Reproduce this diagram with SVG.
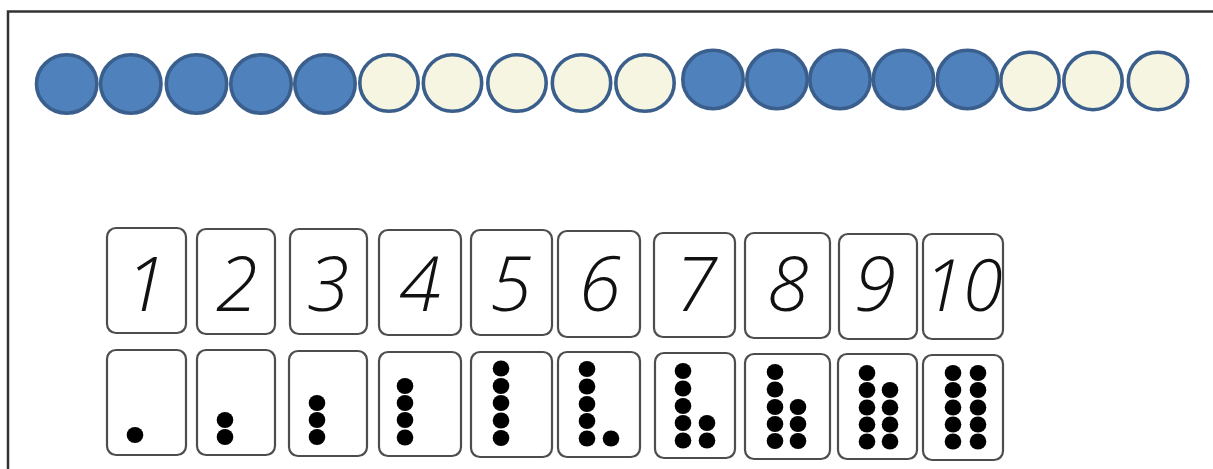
<svg xmlns="http://www.w3.org/2000/svg" width="1213" height="469" viewBox="0 0 1213 469">
<style>
.frame{fill:none;stroke:#333;stroke-width:2.5}
.bd{fill:#4f81bd;stroke:#3b5f8c;stroke-width:3.6}
.bl{fill:#f5f5e1;stroke:#3b5f8c;stroke-width:3.6}
.card{fill:#fff;stroke:#4d4d4d;stroke-width:2.2}
.num{font-family:"Open Sans","Liberation Sans",sans-serif;font-weight:300;font-style:italic;font-size:76px;fill:#111;text-anchor:middle}
.dot{fill:#000}
</style>
<rect width="1213" height="469" fill="#fff"/>
<path class="frame" d="M8,470 V11.5 H1214"/>
<g id="beads">
<ellipse class="bd" cx="66.7" cy="84" rx="30.2" ry="29.2"/>
<ellipse class="bd" cx="130.8" cy="84" rx="30.2" ry="29.2"/>
<ellipse class="bd" cx="196.5" cy="84" rx="30.2" ry="29.2"/>
<ellipse class="bd" cx="261" cy="84" rx="30.2" ry="29.2"/>
<ellipse class="bd" cx="325" cy="84" rx="30.2" ry="29.2"/>
<ellipse class="bl" cx="389" cy="83" rx="29.2" ry="28.2"/>
<ellipse class="bl" cx="452.5" cy="83" rx="29.2" ry="28.2"/>
<ellipse class="bl" cx="517" cy="83" rx="29.2" ry="28.2"/>
<ellipse class="bl" cx="581.5" cy="83" rx="29.2" ry="28.2"/>
<ellipse class="bl" cx="645" cy="83" rx="29.2" ry="28.2"/>
<ellipse class="bd" cx="713" cy="79.5" rx="30.2" ry="29.2"/>
<ellipse class="bd" cx="777" cy="79.5" rx="30.2" ry="29.2"/>
<ellipse class="bd" cx="840" cy="79.5" rx="30.2" ry="29.2"/>
<ellipse class="bd" cx="903.5" cy="79.5" rx="30.2" ry="29.2"/>
<ellipse class="bd" cx="967.5" cy="79.5" rx="30.2" ry="29.2"/>
<ellipse class="bl" cx="1030" cy="81" rx="29.2" ry="28.7"/>
<ellipse class="bl" cx="1093" cy="81" rx="29.2" ry="28.7"/>
<ellipse class="bl" cx="1158" cy="81" rx="29.7" ry="28.7"/>
</g>
<g id="numcard1"><rect class="card" x="107" y="228" width="79" height="105" rx="9"/><text class="num" x="146" y="311">1</text></g>
<g id="numcard2"><rect class="card" x="197" y="229" width="78" height="105" rx="9"/><text class="num" x="237" y="311">2</text></g>
<g id="numcard3"><rect class="card" x="290" y="229" width="77" height="105" rx="9"/><text class="num" x="328" y="311">3</text></g>
<g id="numcard4"><rect class="card" x="379" y="230" width="82" height="105" rx="9"/><text class="num" x="420" y="311">4</text></g>
<g id="numcard5"><rect class="card" x="471" y="230" width="81" height="105" rx="9"/><text class="num" x="511" y="311">5</text></g>
<g id="numcard6"><rect class="card" x="558" y="231" width="82" height="106" rx="9"/><text class="num" x="600" y="311">6</text></g>
<g id="numcard7"><rect class="card" x="654" y="233" width="81" height="104" rx="9"/><text class="num" x="696" y="311">7</text></g>
<g id="numcard8"><rect class="card" x="745" y="233" width="85" height="105" rx="9"/><text class="num" x="788" y="311">8</text></g>
<g id="numcard9"><rect class="card" x="839" y="234" width="78" height="105" rx="9"/><text class="num" x="875" y="311">9</text></g>
<g id="numcard10"><rect class="card" x="923" y="234" width="80" height="105" rx="9"/><text class="num" x="963" y="311" style="font-size:72px">10</text></g>
<defs><ellipse id="d" class="dot" rx="8.3" ry="8"/></defs>
<g id="dotcard1"><rect class="card" x="107" y="350" width="79" height="105" rx="9"/><use href="#d" x="135" y="435"/></g>
<g id="dotcard2"><rect class="card" x="197" y="350" width="78" height="105" rx="9"/><use href="#d" x="225" y="420"/><use href="#d" x="225" y="437"/></g>
<g id="dotcard3"><rect class="card" x="289" y="351" width="78" height="105" rx="9"/><use href="#d" x="317" y="403"/><use href="#d" x="317" y="420"/><use href="#d" x="317" y="437"/></g>
<g id="dotcard4"><rect class="card" x="379" y="352" width="82" height="104" rx="9"/><use href="#d" x="405" y="386"/><use href="#d" x="405" y="403"/><use href="#d" x="405" y="420"/><use href="#d" x="405" y="437.5"/></g>
<g id="dotcard5"><rect class="card" x="471" y="352" width="81" height="105" rx="9"/><use href="#d" x="501" y="368.5"/><use href="#d" x="501" y="386"/><use href="#d" x="501" y="403"/><use href="#d" x="501" y="420.5"/><use href="#d" x="501" y="438"/></g>
<g id="dotcard6"><rect class="card" x="558" y="352" width="82" height="105" rx="9"/><use href="#d" x="587" y="369"/><use href="#d" x="587" y="386.5"/><use href="#d" x="587" y="404"/><use href="#d" x="587" y="421"/><use href="#d" x="587" y="438.5"/><use href="#d" x="611" y="438.5"/></g>
<g id="dotcard7"><rect class="card" x="655" y="353" width="80" height="105" rx="9"/><use href="#d" x="683" y="371"/><use href="#d" x="683" y="388.5"/><use href="#d" x="683" y="406"/><use href="#d" x="683" y="423"/><use href="#d" x="683" y="440.5"/><use href="#d" x="707" y="423"/><use href="#d" x="707" y="440.5"/></g>
<g id="dotcard8"><rect class="card" x="745" y="354" width="85" height="105" rx="9"/><use href="#d" x="775" y="372"/><use href="#d" x="775" y="389.5"/><use href="#d" x="775" y="407"/><use href="#d" x="775" y="424"/><use href="#d" x="775" y="441"/><use href="#d" x="798" y="407"/><use href="#d" x="798" y="424"/><use href="#d" x="798" y="441"/></g>
<g id="dotcard9"><rect class="card" x="838" y="354" width="79" height="105" rx="9"/><use href="#d" x="867" y="373"/><use href="#d" x="867" y="390"/><use href="#d" x="867" y="407.5"/><use href="#d" x="867" y="424.5"/><use href="#d" x="867" y="441.5"/><use href="#d" x="890" y="390"/><use href="#d" x="890" y="407.5"/><use href="#d" x="890" y="424.5"/><use href="#d" x="890" y="441.5"/></g>
<g id="dotcard10"><rect class="card" x="923" y="355" width="80" height="105" rx="9"/><use href="#d" x="953" y="373"/><use href="#d" x="953" y="390"/><use href="#d" x="953" y="407.5"/><use href="#d" x="953" y="424.5"/><use href="#d" x="953" y="441.5"/><use href="#d" x="978" y="373"/><use href="#d" x="978" y="390"/><use href="#d" x="978" y="407.5"/><use href="#d" x="978" y="424.5"/><use href="#d" x="978" y="441.5"/></g>
</svg>
